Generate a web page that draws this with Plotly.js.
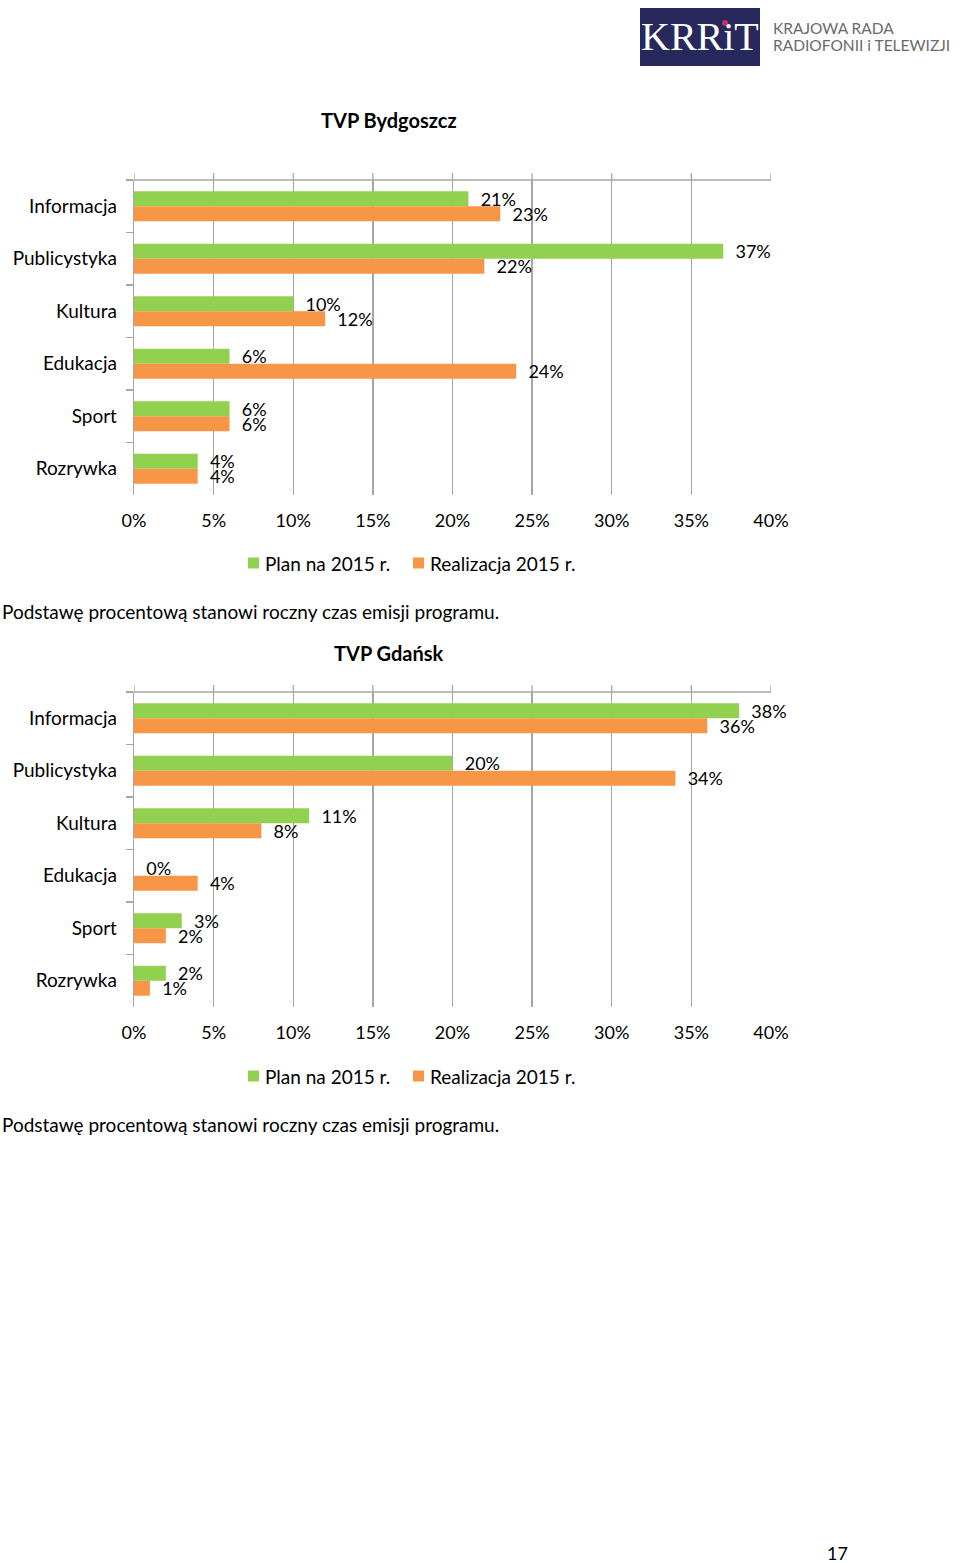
<!DOCTYPE html>
<html>
<head>
<meta charset="utf-8">
<script src="https://cdn.plot.ly/plotly-3.0.1.min.js"></script>
<style>
  html, body { margin: 0; padding: 0; background: #ffffff; }
  #chart { width: 960px; height: 1563px; }
</style>
</head>
<body>
<div id="chart"></div>
<script>
// ---- data ----
const categories = ['Informacja', 'Publicystyka', 'Kultura', 'Edukacja', 'Sport', 'Rozrywka'];
const bydgoszczPlan = [21, 37, 10, 6, 6, 4];
const bydgoszczReal = [23, 22, 12, 24, 6, 4];
const gdanskPlan = [38, 20, 11, 0, 3, 2];
const gdanskReal = [36, 34, 8, 4, 2, 1];
const xTickVals = [0, 5, 10, 15, 20, 25, 30, 35, 40];
const seriesNames = ['Plan na 2015 r.', 'Realizacja 2015 r.'];
const chartTitles = ['TVP Bydgoszcz', 'TVP Gdańsk'];
const captionText = 'Podstawę procentową stanowi roczny czas emisji programu.';

// ---- styling ----
const W = 960, H = 1563;
const FONT = 'Lato, "Open Sans", sans-serif';
const GREEN = '#92d050', ORANGE = '#f79646';
const GRID = '#a6a6a6', TXT = '#000000';
const px = x => x / W;
const py = y => 1 - y / H;

function barTrace(vals, name, color, xa, ya) {
  return {
    type: 'bar', orientation: 'h', y: categories, x: vals, name: name,
    marker: { color: color }, xaxis: xa, yaxis: ya, showlegend: false,
    text: vals.map(v => '\u00a0\u00a0' + v + '%'),
    textposition: 'outside', constraintext: 'none', cliponaxis: false,
    textfont: { family: FONT, size: 18, color: TXT },
    hoverinfo: 'skip'
  };
}

const data = [
  barTrace(bydgoszczPlan, seriesNames[0], GREEN, 'x', 'y'),
  barTrace(bydgoszczReal, seriesNames[1], ORANGE, 'x', 'y'),
  barTrace(gdanskPlan, seriesNames[0], GREEN, 'x2', 'y2'),
  barTrace(gdanskReal, seriesNames[1], ORANGE, 'x2', 'y2')
];

function valueAxis(anchor) {
  return {
    domain: [px(134), px(771)], anchor: anchor, range: [0, 40],
    tickvals: xTickVals, ticktext: xTickVals.map(v => v + '%'),
    showgrid: true, gridcolor: GRID, gridwidth: 1.3, zeroline: false,
    showline: false, ticks: 'outside', ticklen: 9, tickcolor: 'rgba(0,0,0,0)',
    tickfont: { family: FONT, size: 18, color: TXT }, fixedrange: true
  };
}
function catAxis(domain, anchor) {
  return {
    domain: domain, anchor: anchor, autorange: 'reversed', type: 'category',
    showline: true, linecolor: GRID, linewidth: 1.3, showgrid: false,
    ticks: 'outside', ticklen: 7, tickcolor: GRID, tickwidth: 1.3,
    tickson: 'boundaries', ticklabelstandoff: 12,
    tickfont: { family: FONT, size: 19, color: TXT }, fixedrange: true
  };
}

const annotations = [
  { text: '<b>' + chartTitles[0] + '</b>', x: px(389), y: py(120) },
  { text: '<b>' + chartTitles[1] + '</b>', x: px(389), y: py(653) },
].map(a => Object.assign({ xref: 'paper', yref: 'paper', showarrow: false,
  xanchor: 'center', yanchor: 'middle', font: { family: FONT, size: 20, color: TXT } }, a));

[611, 1124].forEach(y => annotations.push({
  text: captionText, xref: 'paper', yref: 'paper', x: px(0), y: py(y),
  xanchor: 'left', yanchor: 'middle', showarrow: false,
  font: { family: FONT, size: 19, color: TXT }
}));

annotations.push({ text: '17', xref: 'paper', yref: 'paper', x: px(837), y: py(1553),
  xanchor: 'center', yanchor: 'middle', showarrow: false,
  font: { family: FONT, size: 18, color: TXT } });

// logo
annotations.push({ text: 'KRRiT', xref: 'paper', yref: 'paper', x: px(700), y: py(37),
  xanchor: 'center', yanchor: 'middle', showarrow: false,
  font: { family: '"Liberation Serif", serif', size: 40, color: '#ffffff' } });
annotations.push({ text: 'KRAJOWA RADA', xref: 'paper', yref: 'paper', x: px(771), y: py(28),
  xanchor: 'left', yanchor: 'middle', showarrow: false,
  font: { family: FONT, size: 15.5, color: '#6a6a6a' } });
annotations.push({ text: 'RADIOFONII i TELEWIZJI', xref: 'paper', yref: 'paper', x: px(771), y: py(45),
  xanchor: 'left', yanchor: 'middle', showarrow: false,
  font: { family: FONT, size: 15.5, color: '#6a6a6a' } });

const shapes = [
  { type: 'rect', xref: 'paper', yref: 'paper', x0: px(640), x1: px(760), y0: py(66), y1: py(8),
    fillcolor: '#27285c', line: { width: 0 }, layer: 'below' },
  { type: 'circle', xref: 'paper', yref: 'paper', x0: px(722), x1: px(728), y0: py(26), y1: py(20),
    fillcolor: '#c0326a', line: { width: 0 } }
];

// top axis line + ticks above it (value axis crosses at the top)
[['x', 'y'], ['x2', 'y2']].forEach(([xa, ya]) => {
  shapes.push({ type: 'line', xref: xa + ' domain', yref: ya + ' domain',
    x0: 0, x1: 1, y0: 1, y1: 1, line: { color: GRID, width: 1.3 } });
  xTickVals.forEach(v => shapes.push({ type: 'line', xref: xa, yref: ya + ' domain',
    x0: v, x1: v, ysizemode: 'pixel', yanchor: 1, y0: 0, y1: 7,
    line: { color: GRID, width: 1.3 } }));
});

// legends (one per chart)
[563, 1076].forEach(y => {
  [[248, 264, GREEN, seriesNames[0]], [413, 429, ORANGE, seriesNames[1]]].forEach(([sx, tx, col, name]) => {
    shapes.push({ type: 'rect', xref: 'paper', yref: 'paper',
      x0: px(sx), x1: px(sx + 11), y0: py(y + 5.5), y1: py(y - 5.5),
      fillcolor: col, line: { width: 0 } });
    annotations.push({ text: name, xref: 'paper', yref: 'paper', x: px(tx - 1), y: py(y),
      xanchor: 'left', yanchor: 'middle', showarrow: false,
      font: { family: FONT, size: 19, color: TXT } });
  });
});

const layout = {
  width: W, height: H, margin: { l: 0, r: 0, t: 0, b: 0 },
  paper_bgcolor: '#ffffff', plot_bgcolor: 'rgba(0,0,0,0)',
  barmode: 'group', bargap: 0.43, bargroupgap: 0,
  showlegend: false,
  xaxis: valueAxis('y'),
  yaxis: catAxis([py(495), py(180)], 'x'),
  xaxis2: valueAxis('y2'),
  yaxis2: catAxis([py(1007), py(692)], 'x2'),
  annotations: annotations,
  shapes: shapes
};

Plotly.newPlot('chart', data, layout, { staticPlot: true, displayModeBar: false });
</script>
</body>
</html>
